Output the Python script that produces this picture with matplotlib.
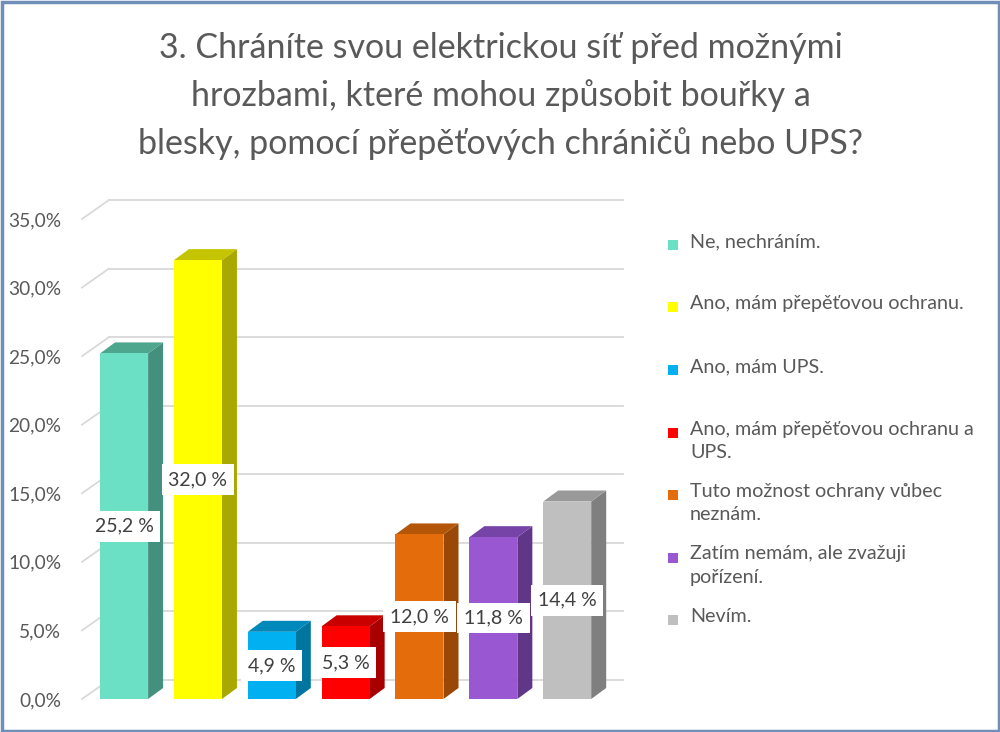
import matplotlib
matplotlib.use("Agg")
import matplotlib.pyplot as plt
from matplotlib.patches import Polygon, Rectangle
from matplotlib.lines import Line2D

plt.rcParams['font.family'] = ['Lato', 'DejaVu Sans']

title = "3. Chráníte svou elektrickou síť před možnými\nhrozbami, které mohou způsobit bouřky a\nblesky, pomocí přepěťových chráničů nebo UPS?"
categories = ["Ne, nechráním.",
              "Ano, mám přepěťovou ochranu.",
              "Ano, mám UPS.",
              "Ano, mám přepěťovou ochranu a\nUPS.",
              "Tuto možnost ochrany vůbec\nneznám.",
              "Zatím nemám, ale zvažuji\npořízení.",
              "Nevím."]
values = [25.2, 32.0, 4.9, 5.3, 12.0, 11.8, 14.4]
front_colors = ["#6CE0C4", "#FFFF00", "#00B0F0", "#FF0000", "#E46C0A", "#9A57D2", "#BFBFBF"]
side_colors = ["#44907E", "#A8A800", "#0075A0", "#A80000", "#9A4807", "#603788", "#7F7F7F"]
top_colors = ["#4FA68F", "#C4C400", "#0088BA", "#C80000", "#B45608", "#7544A6", "#999999"]
yticks = [0, 5, 10, 15, 20, 25, 30, 35]

TXT = "#595959"
W, H = 1000, 732
fig = plt.figure(figsize=(W / 100, H / 100), dpi=100)
fig.patch.set_facecolor("white")

# front plane of the plot in pixels
px_l, px_r, px_y0, px_y35 = 82, 596, 699, 219
ax = fig.add_axes([px_l / W, (H - px_y0) / H, (px_r - px_l) / W, (px_y0 - px_y35) / H])
xl, xr = -0.57, 6.39
ax.set_xlim(xl, xr)
ax.set_ylim(0, 35)
for s in ax.spines.values():
    s.set_visible(False)
ax.set_xticks([])
ax.set_yticks(yticks)
ax.set_yticklabels([f"{t:.1f}".replace(".", ",") + "%" for t in yticks])
ax.tick_params(axis="y", length=0, pad=15, labelsize=13.8, labelcolor=TXT)
ax.patch.set_alpha(0)

ppu_x = (px_r - px_l) / (xr - xl)
ppu_y = (px_y0 - px_y35) / 35.0
# back wall offset and bar depth (pixels -> data units)
wdx, wdy = 27 / ppu_x, 19 / ppu_y
bdx, bdy = 15 / ppu_x, 11 / ppu_y

grid_c = "#D9D9D9"
for t in yticks:
    ax.add_line(Line2D([xl + wdx, xr + wdx], [t + wdy, t + wdy], color=grid_c, lw=1.3, zorder=1, clip_on=False))
    ax.add_line(Line2D([xl, xl + wdx], [t, t + wdy], color=grid_c, lw=1.3, zorder=1, clip_on=False))

bw = 0.65
xs = list(range(len(values)))
ax.bar(xs, values, width=bw, color=front_colors, zorder=3)
for x, v, sc, tc in zip(xs, values, side_colors, top_colors):
    r = x + bw / 2
    l = x - bw / 2
    ax.add_patch(Polygon([(r, 0), (r + bdx, bdy), (r + bdx, v + bdy), (r, v)], closed=True,
                         facecolor=sc, edgecolor="none", zorder=2.9, clip_on=False))
    ax.add_patch(Polygon([(l, v), (l + bdx, v + bdy), (r + bdx, v + bdy), (r, v)], closed=True,
                         facecolor=tc, edgecolor="none", zorder=2.9, clip_on=False))
    ax.text(x, v / 2, f"{v:.1f}".replace(".", ",") + " %", ha="center", va="center",
            fontsize=14, color="#404040", zorder=6,
            bbox=dict(boxstyle="square,pad=0.35", facecolor="white", edgecolor="none"))

fig.text(501 / W, 1 - 96 / H, title, ha="center", va="center", fontsize=24.5, color=TXT,
         linespacing=1.55)

# legend
leg_fs = 14.2
leg_y0, leg_step = 245, 62.5
for i, (lab, c) in enumerate(zip(categories, front_colors)):
    y = leg_y0 + i * leg_step
    fig.patches.append(Rectangle(((668) / W, 1 - (y + 5) / H), 10 / W, 10 / H, transform=fig.transFigure,
                                 facecolor=c, edgecolor="none"))
    fig.text(690 / W, 1 - (y - 12) / H, lab, ha="left", va="top", fontsize=leg_fs, color=TXT, linespacing=1.45)

fig.patches.append(Rectangle((1.5 / W, 1.5 / H), (W - 3) / W, (H - 3) / H, transform=fig.transFigure,
                             facecolor="none", edgecolor="#6F8FB8", lw=2.5))

fig.savefig("out.png", dpi=100)
